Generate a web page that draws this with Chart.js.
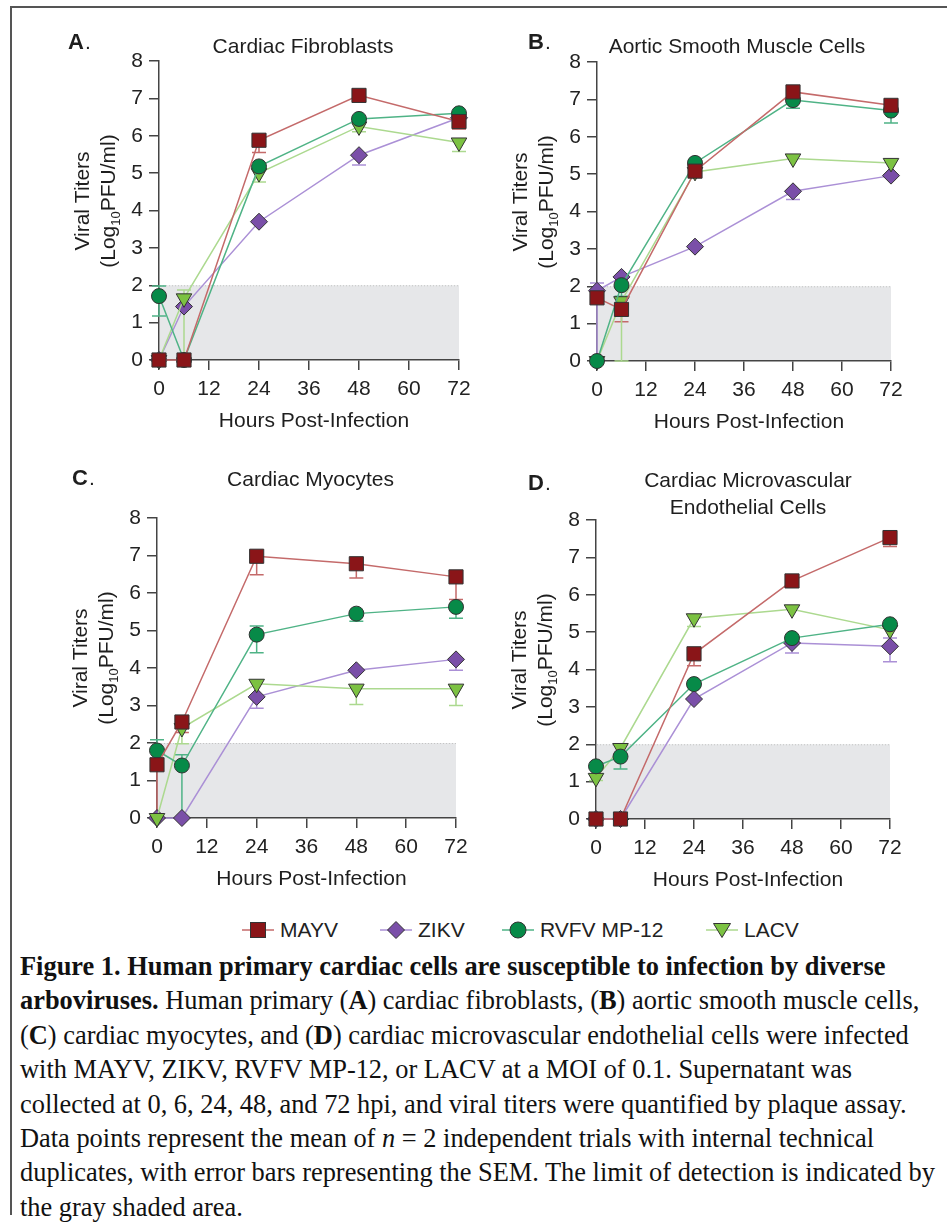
<!DOCTYPE html>
<html>
<head>
<meta charset="utf-8">
<script src="https://cdn.jsdelivr.net/npm/chart.js@4.4.0/dist/chart.umd.min.js"></script>
<style>
  body { margin: 0; background: #fff; width: 947px; height: 1226px; position: relative; overflow: hidden;
         font-family: 'Liberation Sans', Arial, sans-serif; color: #222; }
  #frame { position: absolute; left: 10px; top: 6px; width: 945px; height: 1207px;
           border-top: 2px solid #555; border-left: 2px solid #555; }
  canvas { position: absolute; }
  .item { position: absolute; top: 917px; height: 26px; display: flex; align-items: center; font-size: 21px; }
  .item svg { margin-right: 6px; }
  #caption { position: absolute; left: 20px; top: 949px; font-family: 'Liberation Serif', 'Times New Roman', serif;
             font-size: 26.4px; line-height: 34.4px; white-space: nowrap; color: #111; }
</style>
</head>
<body>
<div id="frame"></div>
<canvas id="panel-a" width="480" height="450" style="left:0;top:0"></canvas>
<canvas id="panel-b" width="477" height="450" style="left:470px;top:0"></canvas>
<canvas id="panel-c" width="480" height="450" style="left:0;top:450px"></canvas>
<canvas id="panel-d" width="477" height="450" style="left:470px;top:450px"></canvas>
<div id="legend"></div>
<div id="caption">
<b>Figure 1. Human primary cardiac cells are susceptible to infection by diverse</b><br>
<b>arboviruses.</b> Human primary (<b>A</b>) cardiac fibroblasts, (<b>B</b>) aortic smooth muscle cells,<br>
(<b>C</b>) cardiac myocytes, and (<b>D</b>) cardiac microvascular endothelial cells were infected<br>
with MAYV, ZIKV, RVFV MP-12, or LACV at a MOI of 0.1. Supernatant was<br>
collected at 0, 6, 24, 48, and 72 hpi, and viral titers were quantified by plaque assay.<br>
Data points represent the mean of <i>n</i> = 2 independent trials with internal technical<br>
duplicates, with error bars representing the SEM. The limit of detection is indicated by<br>
the gray shaded area.
</div>
<script>
// time points and axis ticks
const hours = [0, 6, 24, 48, 72];
const xTicks = [0, 12, 24, 36, 48, 60, 72];
const yTicks = [0, 1, 2, 3, 4, 5, 6, 7, 8];
const detectionLimit = 2;
const seriesNames = ['MAYV', 'ZIKV', 'RVFV MP-12', 'LACV'];

// A. Cardiac Fibroblasts (log10 PFU/ml), Lo/Hi = SEM below/above the mean
const mayvA = [0, 0, 5.88, 7.08, 6.38];
const zikvA = [0, 1.43, 3.70, 5.48, 6.48];
const rvfvA = [1.71, 0, 5.18, 6.45, 6.60];
const lacvA = [0, 1.65, 5.00, 6.25, 5.82];
const mayvALo = [0, 0, 0.33, 0, 0.2];
const zikvALo = [0, 0, 0, 0.26, 0];
const rvfvALo = [0.53, 0, 0, 0.12, 0];
const rvfvAHi = [0.27, 0, 0, 0, 0];
const lacvALo = [0, 1.65, 0.24, 0.14, 0.24];
const lacvAHi = [0, 0.22, 0, 0, 0];

// B. Aortic Smooth Muscle Cells
const mayvB = [1.69, 1.38, 5.08, 7.20, 6.84];
const zikvB = [1.88, 2.25, 3.06, 4.54, 4.96];
const rvfvB = [0, 2.03, 5.30, 6.98, 6.70];
const lacvB = [0, 1.60, 5.06, 5.42, 5.30];
const mayvBLo = [0, 0.33, 0, 0, 0];
const zikvBLo = [1.88, 0, 0, 0.22, 0];
const zikvBHi = [0.21, 0, 0, 0, 0];
const rvfvBLo = [0, 0.3, 0, 0.22, 0.33];
const lacvBLo = [0, 1.60, 0, 0, 0];

// C. Cardiac Myocytes
const mayvC = [1.42, 2.56, 6.98, 6.78, 6.43];
const zikvC = [0, 0, 3.23, 3.94, 4.23];
const rvfvC = [1.80, 1.40, 4.89, 5.45, 5.63];
const lacvC = [0, 2.40, 3.58, 3.45, 3.45];
const mayvCLo = [1.42, 0.28, 0.49, 0.38, 0.6];
const zikvCLo = [0, 0, 0.3, 0, 0.29];
const rvfvCLo = [0, 1.40, 0.48, 0.2, 0.3];
const rvfvCHi = [0.29, 0.29, 0.23, 0, 0];
const lacvCLo = [0, 0.42, 0, 0.42, 0.45];

// D. Cardiac Microvascular Endothelial Cells
const mayvD = [0, 0, 4.42, 6.37, 7.53];
const zikvD = [0, 0, 3.21, 4.71, 4.62];
const rvfvD = [1.41, 1.67, 3.61, 4.84, 5.21];
const lacvD = [1.10, 1.90, 5.37, 5.61, 5.06];
const mayvDLo = [0, 0, 0.32, 0, 0.24];
const zikvDLo = [0, 0, 0, 0.27, 0.41];
const zikvDHi = [0, 0, 0, 0, 0.22];
const rvfvDLo = [0, 0.33, 0, 0, 0];
const lacvDLo = [0.07, 0, 0.22, 0, 0];

const none = [0, 0, 0, 0, 0];

// marker / line styles per virus
const styles = {
  'MAYV':       { fill: '#8a1518', line: '#c46a6a', shape: 'rect',     radius: 10,  rotation: 0 },
  'ZIKV':       { fill: '#7a4fa8', line: '#ab90d6', shape: 'rectRot',  radius: 8.5, rotation: 0 },
  'RVFV MP-12': { fill: '#078a48', line: '#4fb386', shape: 'circle',   radius: 7.5, rotation: 0 },
  'LACV':       { fill: '#7cc242', line: '#acd98f', shape: 'triangle', radius: 9,   rotation: 180 }
};

const FONT = '"Liberation Sans", Arial, sans-serif';

function series(name, values, lo, hi) {
  const s = styles[name];
  return {
    label: name,
    data: hours.map((h, i) => ({ x: h, y: values[i] })),
    errLo: lo, errHi: hi || none,
    borderColor: s.line, borderWidth: 1.5, tension: 0, fill: false, clip: false,
    pointStyle: s.shape, pointRadius: s.radius, pointRotation: s.rotation,
    pointBackgroundColor: s.fill, pointBorderColor: '#333', pointBorderWidth: 1
  };
}

// gray limit-of-detection area
const lodShade = {
  id: 'lodShade',
  beforeDraw(chart) {
    const { ctx, scales: { x, y } } = chart;
    const l = x.getPixelForValue(0) + 1, r = x.getPixelForValue(72);
    const t = y.getPixelForValue(detectionLimit), b = y.getPixelForValue(0);
    ctx.save();
    ctx.fillStyle = '#e6e7e9';
    ctx.fillRect(l, t, r - l, b - t);
    ctx.strokeStyle = '#c4c4c4';
    ctx.lineWidth = 1;
    ctx.setLineDash([1, 2]);
    ctx.beginPath(); ctx.moveTo(l, t + 0.5); ctx.lineTo(r, t + 0.5); ctx.stroke();
    ctx.restore();
  }
};

// SEM error bars, drawn under the markers
const errorBars = {
  id: 'errorBars',
  beforeDatasetsDraw(chart) {
    const { ctx, scales: { x, y } } = chart;
    chart.data.datasets.forEach(ds => {
      ctx.save();
      ctx.strokeStyle = ds.borderColor;
      ctx.lineWidth = 1.5;
      ds.data.forEach((p, i) => {
        const lo = ds.errLo[i], hi = ds.errHi[i];
        if (!lo && !hi) return;
        const px = x.getPixelForValue(p.x);
        const yt = y.getPixelForValue(p.y + hi), yb = y.getPixelForValue(p.y - lo);
        ctx.beginPath();
        ctx.moveTo(px, yt); ctx.lineTo(px, yb);
        if (lo) { ctx.moveTo(px - 7, yb); ctx.lineTo(px + 7, yb); }
        if (hi) { ctx.moveTo(px - 7, yt); ctx.lineTo(px + 7, yt); }
        ctx.stroke();
      });
      ctx.restore();
    });
  }
};

// panel letter, title and axis titles
const panelText = {
  id: 'panelText',
  afterDraw(chart, args, o) {
    const { ctx, chartArea: a } = chart;
    const cx = (a.left + a.right) / 2;
    ctx.save();
    ctx.fillStyle = '#1e1e1e';
    ctx.textBaseline = 'alphabetic';
    ctx.textAlign = 'left';
    ctx.font = 'bold 22px ' + FONT;
    ctx.fillText(o.letter, o.letterX, o.letterY);
    const lw = ctx.measureText(o.letter).width;
    ctx.font = '21px ' + FONT;
    ctx.fillText('.', o.letterX + lw + 1, o.letterY);

    ctx.textAlign = 'center';
    o.title.forEach((t, i) => ctx.fillText(t, cx + o.titleDx, a.top + o.titleY + i * 27));
    ctx.fillText('Hours Post-Infection', cx + 5, a.bottom + 66.5);

    // y axis title, rotated, with subscript
    ctx.translate(a.left - 78, a.top + 140);
    ctx.rotate(-Math.PI / 2);
    ctx.fillText('Viral Titers', 0, 7.5);
    ctx.textAlign = 'left';
    const p1 = '(Log', sub = '10', p2 = 'PFU/ml)';
    ctx.font = '21px ' + FONT;
    const w1 = ctx.measureText(p1).width, w3 = ctx.measureText(p2).width;
    ctx.font = '13px ' + FONT;
    const w2 = ctx.measureText(sub).width;
    let xx = -(w1 + w2 + w3) / 2;
    ctx.font = '21px ' + FONT;
    ctx.fillText(p1, xx, 33.5); xx += w1;
    ctx.font = '13px ' + FONT;
    ctx.fillText(sub, xx, 38.5); xx += w2;
    ctx.font = '21px ' + FONT;
    ctx.fillText(p2, xx, 33.5);
    ctx.restore();
  }
};

function makePanel(id, sets, pad, text) {
  const axis = {
    grid: { drawOnChartArea: false, drawTicks: true, tickLength: 10, color: '#444', lineWidth: 1.5 },
    border: { display: true, color: '#444', width: 1.5 }
  };
  new Chart(document.getElementById(id), {
    type: 'line',
    data: { datasets: sets },
    plugins: [lodShade, errorBars, panelText],
    options: {
      responsive: false, animation: false, devicePixelRatio: 1,
      layout: { padding: pad },
      plugins: { legend: { display: false }, tooltip: { enabled: false }, panelText: text },
      scales: {
        x: Object.assign({}, axis, {
          type: 'linear', min: 0, max: 72,
          afterBuildTicks: s => { s.ticks = xTicks.map(v => ({ value: v })); },
          afterFit: s => { s.height = 40; },
          ticks: { color: '#222', padding: 7, maxRotation: 0, font: { family: FONT, size: 21 } }
        }),
        y: Object.assign({}, axis, {
          min: 0, max: 8,
          afterBuildTicks: s => { s.ticks = yTicks.map(v => ({ value: v })); },
          afterFit: s => { s.width = 60; },
          ticks: { color: '#222', padding: 6, font: { family: FONT, size: 21 } }
        })
      }
    }
  });
}

// dataset 0 is drawn on top
makePanel('panel-a', [
  series('MAYV', mayvA, mayvALo), series('RVFV MP-12', rvfvA, rvfvALo, rvfvAHi),
  series('LACV', lacvA, lacvALo, lacvAHi), series('ZIKV', zikvA, zikvALo)
], { left: 99, top: 61, right: 21, bottom: 50 },
  { letter: 'A', letterX: 68, letterY: 49, title: ['Cardiac Fibroblasts'], titleDx: -6, titleY: -8.5 });

makePanel('panel-b', [
  series('MAYV', mayvB, mayvBLo), series('RVFV MP-12', rvfvB, rvfvBLo),
  series('LACV', lacvB, lacvBLo), series('ZIKV', zikvB, zikvBLo, zikvBHi)
], { left: 67, top: 62, right: 56, bottom: 49 },
  { letter: 'B', letterX: 58, letterY: 49, title: ['Aortic Smooth Muscle Cells'], titleDx: -7, titleY: -9.5 });

makePanel('panel-c', [
  series('MAYV', mayvC, mayvCLo), series('RVFV MP-12', rvfvC, rvfvCLo, rvfvCHi),
  series('LACV', lacvC, lacvCLo), series('ZIKV', zikvC, zikvCLo)
], { left: 97, top: 68, right: 24, bottom: 42 },
  { letter: 'C', letterX: 72, letterY: 35, title: ['Cardiac Myocytes'], titleDx: 4, titleY: -32.5 });

makePanel('panel-d', [
  series('MAYV', mayvD, mayvDLo), series('RVFV MP-12', rvfvD, rvfvDLo),
  series('LACV', lacvD, lacvDLo), series('ZIKV', zikvD, zikvDLo, zikvDHi)
], { left: 66, top: 70, right: 57, bottom: 41 },
  { letter: 'D', letterX: 58, letterY: 40, title: ['Cardiac Microvascular', 'Endothelial Cells'], titleDx: 5, titleY: -33.5 });

// legend row
const legendX = [242, 380, 502, 706];
const legend = document.getElementById('legend');
seriesNames.forEach((name, i) => {
  const s = styles[name];
  let mark;
  if (s.shape === 'rect') mark = '<rect x="8.5" y="4.5" width="15" height="15" fill="' + s.fill + '" stroke="#333"/>';
  else if (s.shape === 'rectRot') mark = '<polygon points="16,3.5 24.5,12 16,20.5 7.5,12" fill="' + s.fill + '" stroke="#333"/>';
  else if (s.shape === 'circle') mark = '<circle cx="16" cy="12" r="8" fill="' + s.fill + '" stroke="#333"/>';
  else mark = '<polygon points="7.5,5.5 24.5,5.5 16,19.5" fill="' + s.fill + '" stroke="#333"/>';
  const el = document.createElement('div');
  el.className = 'item';
  el.style.left = legendX[i] + 'px';
  el.innerHTML = '<svg width="32" height="24"><line x1="0" y1="12" x2="32" y2="12" stroke="' + s.line +
    '" stroke-width="1.5"/>' + mark + '</svg><span>' + name + '</span>';
  legend.appendChild(el);
});
</script>
</body>
</html>
